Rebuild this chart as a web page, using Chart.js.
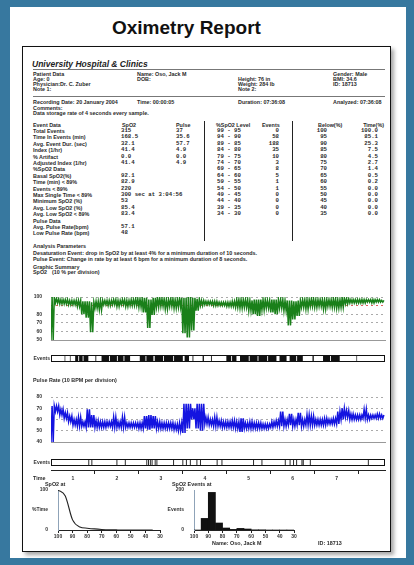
<!DOCTYPE html>
<html>
<head>
<meta charset="utf-8">
<script src="https://cdn.jsdelivr.net/npm/chart.js@4.4.1/dist/chart.umd.min.js"></script>
<style>
body { margin: 0; width: 414px; height: 565px; background: #37789f; position: relative; overflow: hidden; font-family: "Liberation Sans", Arial, sans-serif; }
#sheet { position: absolute; left: 10px; top: 7px; width: 396px; height: 551px; background: #fff; }
#title { position: absolute; left: 112px; top: 18px; font-size: 19px; font-weight: bold; color: #111; line-height: 19px; }
#frame { position: absolute; left: 22px; top: 46px; width: 367px; height: 504px; border: 1.5px solid #111; box-shadow: 3px 3px 4px rgba(0,0,0,0.35); background: #fff; }
.t { position: absolute; font-size: 5.4px; line-height: 6px; font-weight: bold; color: #2a2a2a; white-space: nowrap; }
.m { font-family: "Liberation Mono", monospace; font-size: 5.7px; }
.r { transform: translateX(-100%); }
.hd { font-size: 8.5px; line-height: 8px; font-style: italic; color: #222; }
.rule { position: absolute; background: #777; }
canvas { position: absolute; }
</style>
</head>
<body>
<div id="sheet"></div>
<div id="title">Oximetry Report</div>
<div id="frame"></div>
<div class="rule" style="left:33px;top:69px;width:352px;height:1px"></div>
<div class="rule" style="left:33px;top:96px;width:352px;height:1px"></div>
<div class="rule" style="left:204px;top:121px;width:1px;height:120px;background:#222"></div>
<div class="rule" style="left:292px;top:121px;width:1px;height:120px;background:#222"></div>

<canvas id="spo2" width="370" height="67" style="left:22px;top:285px"></canvas>
<canvas id="spo2Ev" width="370" height="17" style="left:22px;top:350px"></canvas>
<canvas id="pulse" width="370" height="69" style="left:22px;top:385px"></canvas>
<canvas id="pulseEv" width="370" height="17" style="left:22px;top:454px"></canvas>
<canvas id="timeAxis" width="370" height="22" style="left:22px;top:463px"></canvas>
<canvas id="below" width="150" height="58" style="left:22px;top:484px"></canvas>
<canvas id="hist" width="140" height="58" style="left:165px;top:484px"></canvas>

<script>
// recording length in hours (07:36:08) and trace bin size
const hours = 7.6;
const binHours = 0.1;

// SpO2 trace, low / high per 0.1 h bin
const spo2Lo = [50,93,92,92,91,91,89,80,76,59, 87,85,91,90,91,89,91,89,90,90,
  88,82,64,79,88,89,86,89,87,88, 58,53,61,84,90,91,91,90,90,90,
  89,89,88,87,88,84,80,78,85,87, 82,80,87,84,67,74,78,88,86,89,
  88,89,86,89,88,87,88,92,93,93, 93,93,94,93,94,94];
const spo2Hi = [100,98,97,97,96,96,96,95,95,94, 95,96,96,96,97,96,97,96,97,98,
  98,99,97,99,99,98,97,98,97,99, 99,100,99,98,96,95,95,95,94,94,
  94,95,97,97,97,96,97,97,97,96, 97,97,97,96,96,95,96,97,97,98,
  97,97,97,97,98,97,99,98,97,97, 97,97,97,97,97,96];

// pulse trace, low / high per 0.1 h bin
const pulseLo = [40,67,64,61,58,55,54,54,53,53, 53,53,53,54,53,53,53,53,53,53,
  52,52,51,52,52,52,52,52,51,50, 48,52,60,52,50,56,55,54,54,53,
  53,53,52,49,52,52,52,52,52,52, 53,54,54,54,55,54,55,54,55,55,
  55,55,55,56,56,56,60,62,60,60, 60,61,60,61,61,61];
const pulseHi = [72,72,69,66,63,60,62,58,69,64, 59,58,58,58,62,58,62,57,57,57,
  57,63,64,63,58,57,57,57,56,57, 74,74,70,74,74,62,60,62,59,58,
  58,59,58,61,57,58,57,57,56,56, 58,59,67,60,65,60,66,60,64,63,
  60,60,61,60,61,67,70,68,65,64, 64,69,64,64,65,64];

// desaturation event marks (start, end in hours)
const spo2Events = [[0.16,0.175],[0.31,0.325],[0.43,0.445],[0.55,0.62],[0.64,0.72],[0.74,0.85],
  [1.01,1.03],[1.15,1.32],[1.34,1.50],[1.52,1.65],[1.67,1.80],[2.02,2.15],[2.17,2.33],
  [2.36,2.55],[2.57,2.78],[2.80,3.00],[3.04,3.14],[3.22,3.24],[3.45,3.48],[3.64,3.66],
  [3.99,4.10],[4.12,4.22],[4.30,4.50],[4.52,4.70],[4.72,4.92],[4.94,5.13],[5.20,5.36],
  [5.43,5.58],[5.60,5.73],[5.95,5.98],[6.19,6.35],[6.37,6.57],[6.95,6.965],[7.17,7.185],
  [7.40,7.415]];
// pulse event marks (hours)
const pulseEvents = [0.85,0.92,1.49,1.64,1.68,2.17,2.21,2.25,2.29,2.36,2.40,2.78,2.99,3.07,
  3.16,3.31,3.39,3.46,3.77,3.88,4.37,4.60,4.79,5.32,5.43,5.51,5.58,5.70,5.73,5.89,6.26,6.60,7.21];

const spo2Ticks = [100, 80, 70, 60, 50];
const pulseTicks = [80, 70, 60, 50, 40];
const timeLabels = ['1', '2', '3', '4', '5', '6', '7'];

// table
const eventLabels = ['Total Events','Time In Events (min)','Avg. Event Dur. (sec)','Index (1/hr)','% Artifact',
  'Adjusted Index (1/hr)','%SpO2 Data','Basal SpO2(%)','Time (min) < 89%','Events < 89%',
  'Max Single Time < 89%','Minimum SpO2 (%)','Avg. Low SpO2 (%)','Avg. Low SpO2 < 89%','Pulse Data',
  'Avg. Pulse Rate(bpm)','Low Pulse Rate (bpm)'];
const spo2Col = ['315','168.5','32.1','41.4','0.0','41.4','','92.1','82.9','220','300 sec at 3:04:56','53','85.4','83.4','','57.1','48'];
const pulseCol = ['37','35.6','57.7','4.9','0.0','4.9','','','','','','','','','','',''];
const levelRanges = ['99 - 95','94 - 90','89 - 85','84 - 80','79 - 75','74 - 70','69 - 65',
  '64 - 60','59 - 55','54 - 50','49 - 45','44 - 40','39 - 35','34 - 30'];
const levelEvents = [0, 58, 188, 35, 10, 3, 8, 5, 1, 1, 0, 0, 0, 0];
const belowLevels = [100, 95, 90, 85, 80, 75, 70, 65, 60, 55, 50, 45, 40, 35];
const timePct = [100.0, 85.1, 25.3, 7.5, 4.5, 2.7, 1.4, 0.5, 0.2, 0.0, 0.0, 0.0, 0.0, 0.0];
const histTicks = ['0', 'Events', '200'];
const pctTicks = ['0', '%Time', '100'];

function txt(x, y, s, cls) {
  const d = document.createElement('div');
  d.className = 't ' + (cls || '');
  d.style.left = x + 'px';
  d.style.top = (y - 3) + 'px';
  d.textContent = s;
  document.body.appendChild(d);
}

txt(32, 62.5, 'University Hospital & Clinics', 'hd');
txt(33, 74, 'Patient Data'); txt(33, 79, 'Age: 0'); txt(33, 84, 'Physician:Dr. C. Zuber'); txt(33, 89, 'Note 1:');
txt(137, 74, 'Name: Oso, Jack M'); txt(137, 79, 'DOB:');
txt(238, 79, 'Height: 76 in'); txt(238, 84, 'Weight: 284 lb'); txt(238, 89, 'Note 2:');
txt(333, 74, 'Gender: Male'); txt(333, 79, 'BMI: 34.6'); txt(333, 84, 'ID: 18713');
txt(33, 102, 'Recording Date: 20 January 2004'); txt(137, 102, 'Time: 00:00:05');
txt(238, 102, 'Duration: 07:36:08'); txt(333, 102, 'Analyzed: 07:36:08');
txt(33, 107.5, 'Comments:'); txt(33, 113, 'Data storage rate of 4 seconds every sample.');

txt(33, 124.5, 'Event Data'); txt(122, 124.5, 'SpO2'); txt(176, 124.5, 'Pulse');
txt(216, 124.5, '%SpO2 Level'); txt(262, 124.5, 'Events');
txt(318, 124.5, 'Below(%)'); txt(384, 124.5, 'Time(%)', 'r');
eventLabels.forEach((s, i) => {
  const y = 131 + i * 6.4;
  txt(33, y, s);
  if (spo2Col[i]) txt(121, y, spo2Col[i], 'm');
  if (pulseCol[i]) txt(176, y, pulseCol[i], 'm');
});
levelRanges.forEach((s, i) => {
  const y = 131 + i * 6.4;
  txt(217, y, s, 'm');
  txt(279, y, String(levelEvents[i]), 'm r');
  txt(327, y, String(belowLevels[i]), 'm r');
  txt(378, y, timePct[i].toFixed(1), 'm r');
});

txt(33, 246, 'Analysis Parameters');
txt(33, 252.5, 'Desaturation Event: drop in SpO2 by at least 4% for a minimum duration of 10 seconds.');
txt(33, 258.5, 'Pulse Event: Change in rate by at least 6 bpm for a minimum duration of 8 seconds.');
txt(33, 267, 'Graphic Summary');
txt(33, 272, 'SpO2'); txt(52, 272, '(10 % per division)');
txt(33, 380, 'Pulse Rate (10 BPM per division)');
txt(33, 478, 'Time');
txt(45, 484, 'SpO2 at');
txt(172, 484, 'SpO2 Events at');
txt(212, 543, 'Name: Oso, Jack M');
txt(318, 543, 'ID: 18713');

Chart.defaults.font.family = '"Liberation Sans", Arial, sans-serif';
Chart.defaults.font.size = 5;
Chart.defaults.font.weight = 'bold';
Chart.defaults.color = '#333';
Chart.defaults.animation = false;
Chart.defaults.plugins.legend.display = false;
Chart.defaults.plugins.tooltip.enabled = false;

// outline round the event strips
const frameBox = {
  id: 'frameBox',
  afterDatasetsDraw(chart) {
    const a = chart.chartArea, c = chart.ctx;
    c.save();
    c.strokeStyle = '#111';
    c.lineWidth = 1;
    c.strokeRect(Math.round(a.left) + 0.5, Math.round(a.top) + 0.5, Math.round(a.right - a.left) - 1, Math.round(a.bottom - a.top) - 1);
    c.restore();
  }
};

// each bin drawn as a dense run of strokes between its low and high reading
function densePoints(lo, hi) {
  const pts = [];
  const q = binHours / 4;
  lo.forEach((v, i) => {
    const t = i * binHours;
    pts.push({x: t, y: v}, {x: t + q, y: hi[i]}, {x: t + 2 * q, y: v}, {x: t + 3 * q, y: hi[i]});
  });
  return pts;
}

function traceChart(id, lo, hi, color, min, max, ticks, special) {
  return new Chart(document.getElementById(id), {
    type: 'line',
    data: {
      datasets: [{data: densePoints(lo, hi), borderColor: color, borderWidth: 1.5, pointRadius: 0, tension: 0}]
    },
    options: {
      responsive: false,
      layout: {padding: {top: 6, right: 7}},
      scales: {
        x: {
          type: 'linear', min: 0, max: hours,
          ticks: {display: false},
          grid: {display: false},
          border: {color: '#999'},
          afterFit: s => { s.height = 1; }
        },
        y: {
          min: min, max: max,
          ticks: {stepSize: 10, padding: 9, callback: v => ticks.includes(v) ? String(v) : ''},
          grid: {
            drawTicks: false,
            color: c => c.tick.value === min ? 'rgba(0,0,0,0)' : (c.tick.value === special ? '#e06060' : '#aaa')
          },
          border: {display: false, dash: [2, 3]},
          afterFit: s => { s.width = 29; }
        }
      }
    }
  });
}

// event strip: every (start, end) span drawn as a thick black segment across the strip
function stripChart(id, spans) {
  const pts = [];
  spans.forEach(([s, e]) => { pts.push({x: s, y: 0.5}, {x: e, y: 0.5}, {x: e, y: null}); });
  return new Chart(document.getElementById(id), {
    type: 'line',
    data: {
      datasets: [{
        data: pts, borderColor: '#111', borderWidth: 7, borderCapStyle: 'butt',
        pointRadius: 0, tension: 0, spanGaps: false
      }]
    },
    options: {
      responsive: false,
      layout: {padding: {top: 5, bottom: 5, right: 7}},
      scales: {
        x: {type: 'linear', min: 0, max: hours, display: false},
        y: {
          min: 0, max: 1,
          afterBuildTicks: s => { s.ticks = [{value: 0.5}]; },
          ticks: {autoSkip: false, padding: 1, callback: () => 'Events'},
          grid: {display: false, drawTicks: false},
          border: {display: false},
          afterFit: s => { s.width = 29; }
        }
      }
    },
    plugins: [frameBox]
  });
}

traceChart('spo2', spo2Lo, spo2Hi, '#1a801a', 50, 100, spo2Ticks, 90);
stripChart('spo2Ev', spo2Events);
traceChart('pulse', pulseLo, pulseHi, '#1414e0', 40, 80, pulseTicks, null);
stripChart('pulseEv', pulseEvents.map(t => [t, t + 0.02]));

new Chart(document.getElementById('timeAxis'), {
  type: 'scatter',
  data: {datasets: [{data: []}]},
  options: {
    responsive: false,
    layout: {padding: {top: 3, left: 29, right: 7}},
    scales: {
      x: {
        type: 'linear', min: 0, max: hours,
        ticks: {
          stepSize: 0.5, autoSkip: false, maxRotation: 0, includeBounds: false, padding: 2,
          callback: v => timeLabels[v - 0.5] || ''
        },
        grid: {
          drawOnChartArea: false, tickLength: 4,
          tickColor: c => (Number.isInteger(c.tick.value) && c.tick.value > 0) ? '#222' : 'rgba(0,0,0,0)'
        },
        border: {color: '#222'},
        afterFit: s => { s.height = 15; }
      },
      y: {display: false}
    }
  }
});

new Chart(document.getElementById('below'), {
  type: 'line',
  data: {
    datasets: [{
      data: belowLevels.map((b, i) => ({x: b, y: timePct[i]})),
      borderColor: '#222', borderWidth: 1.1, pointRadius: 0, cubicInterpolationMode: 'monotone'
    }]
  },
  options: {
    responsive: false,
    layout: {padding: {top: 6, right: 12}},
    scales: {
      x: {
        type: 'linear', min: 30, max: 100, reverse: true,
        ticks: {stepSize: 10, padding: 1, maxRotation: 0},
        grid: {drawOnChartArea: false, tickLength: 3, tickColor: '#222'},
        border: {color: '#222'},
        afterFit: s => { s.height = 12; }
      },
      y: {
        min: 0, max: 100,
        ticks: {stepSize: 50, padding: 2, callback: v => pctTicks[v / 50]},
        grid: {display: false},
        border: {color: '#8fa3b8'},
        afterFit: s => { s.width = 36; }
      }
    }
  }
});

new Chart(document.getElementById('hist'), {
  type: 'bar',
  data: {
    datasets: [{
      data: levelRanges.map((r, i) => ({x: belowLevels[i] - 2.5, y: levelEvents[i]})),
      backgroundColor: '#111', barPercentage: 1, categoryPercentage: 1
    }]
  },
  options: {
    responsive: false,
    layout: {padding: {top: 6, right: 11}},
    scales: {
      x: {
        type: 'linear', min: 30, max: 100, reverse: true, offset: false,
        ticks: {stepSize: 10, padding: 1, maxRotation: 0},
        grid: {drawOnChartArea: false, offset: false, tickLength: 3, tickColor: '#222'},
        border: {color: '#222'},
        afterFit: s => { s.height = 12; }
      },
      y: {
        min: 0, max: 200,
        ticks: {stepSize: 100, padding: 2, callback: v => histTicks[v / 100]},
        grid: {display: false},
        border: {color: '#8fa3b8'},
        afterFit: s => { s.width = 29; }
      }
    }
  }
});
</script>
</body>
</html>
